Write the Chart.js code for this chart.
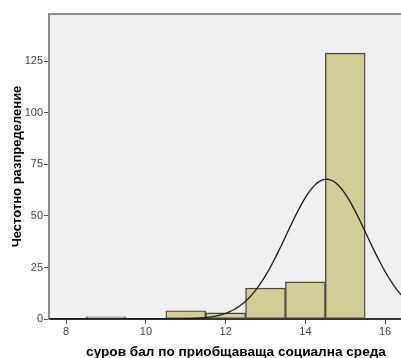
<!DOCTYPE html>
<html>
<head>
<meta charset="utf-8">
<script src="https://cdn.jsdelivr.net/npm/chart.js@4.4.0/dist/chart.umd.min.js"></script>
<style>
    html, body { margin: 0; padding: 0; background: #fff; overflow: hidden; }
    #wrap { width: 401px; height: 358px; overflow: hidden; position: relative; }
    canvas { position: absolute; left: 0; top: 0; }
</style>
</head>
<body>
<div id="wrap"><canvas id="grafico" width="425" height="358"></canvas></div>
<script>
// bins (centre of each bin, width 1) and frequencies
var binCenters = [9, 10, 11, 12, 13, 14, 15];
var counts = [1, 0, 4, 3, 15, 18, 129];

var xTicks = [8, 10, 12, 14, 16];
var yTicks = [0, 25, 50, 75, 100, 125];

var xTitle = 'суров бал по приобщаваща социална среда';
var yTitle = 'Честотно разпределение';

// normal curve parameters (mean / sd of the histogram)
var curveMean = 14.53;
var curveSd = 1.0;

var total = counts.reduce(function (a, b) { return a + b; }, 0);

var barData = [];
for (var i = 0; i < binCenters.length; i++) {
    barData.push({ x: binCenters[i], y: counts[i] });
}

var curveData = [];
for (var x = 7.5; x <= 17.01; x += 0.05) {
    var z = (x - curveMean) / curveSd;
    curveData.push({ x: x, y: total * Math.exp(-0.5 * z * z) / (curveSd * Math.sqrt(2 * Math.PI)) });
}

function keepTicks(list) {
    return function (scale) {
        scale.ticks = list.map(function (v) { return { value: v }; });
    };
}

const plotBg = {
    id: 'plotBg',
    beforeDraw: function (chart) {
        var a = chart.chartArea, c = chart.ctx;
        c.save();
        c.fillStyle = '#f0f0f0';
        c.fillRect(a.left, a.top, a.right - a.left, a.bottom - a.top);
        c.strokeStyle = '#8a8a8a';
        c.lineWidth = 2;
        c.beginPath();
        c.moveTo(a.left, a.top);
        c.lineTo(a.right, a.top);
        c.stroke();
        c.restore();
    }
};

var ctx = document.getElementById('grafico');
new Chart(ctx, {
    type: 'bar',
    data: {
        datasets: [{
            type: 'line',
            data: curveData,
            borderColor: '#1a1a1a',
            borderWidth: 1.3,
            pointRadius: 0,
            tension: 0,
            order: 0
        }, {
            type: 'bar',
            data: barData,
            backgroundColor: '#d3ce97',
            borderColor: '#4a4a44',
            borderWidth: 1.4,
            borderSkipped: false,
            barPercentage: 1,
            categoryPercentage: 1,
            order: 1
        }]
    },
    options: {
        responsive: false,
        animation: false,
        layout: { padding: { top: 14, right: 2, left: 0, bottom: 0 } },
        plugins: { legend: { display: false }, tooltip: { enabled: false } },
        scales: {
            x: {
                type: 'linear',
                min: 7.57,
                max: 16.95,
                offset: false,
                afterBuildTicks: keepTicks(xTicks),
                afterFit: function (s) { s.height = 39; },
                grid: { offset: false, drawOnChartArea: false, drawTicks: true, tickLength: 5, color: '#555' },
                border: { display: true, color: '#333', width: 2 },
                ticks: { color: '#444', font: { family: 'Liberation Sans', size: 11 }, padding: 1, maxRotation: 0 },
                title: {
                    display: true, text: xTitle, color: '#000',
                    font: { family: 'Liberation Sans', size: 13.6, weight: 'bold', lineHeight: 1 },
                    padding: { top: 0, bottom: -1 }
                }
            },
            y: {
                min: 0,
                max: 148,
                afterBuildTicks: keepTicks(yTicks),
                afterFit: function (s) { s.width = 49; },
                grid: { drawOnChartArea: false, drawTicks: true, tickLength: 5, color: '#555' },
                border: { display: true, color: '#8a8a8a', width: 2 },
                ticks: { color: '#444', font: { family: 'Liberation Sans', size: 11 }, padding: 1 },
                title: {
                    display: true, text: yTitle, color: '#000',
                    font: { family: 'Liberation Sans', size: 13, weight: 'bold' },
                    padding: { top: 10, bottom: 0 }
                }
            }
        }
    },
    plugins: [plotBg]
});
</script>
</body>
</html>
